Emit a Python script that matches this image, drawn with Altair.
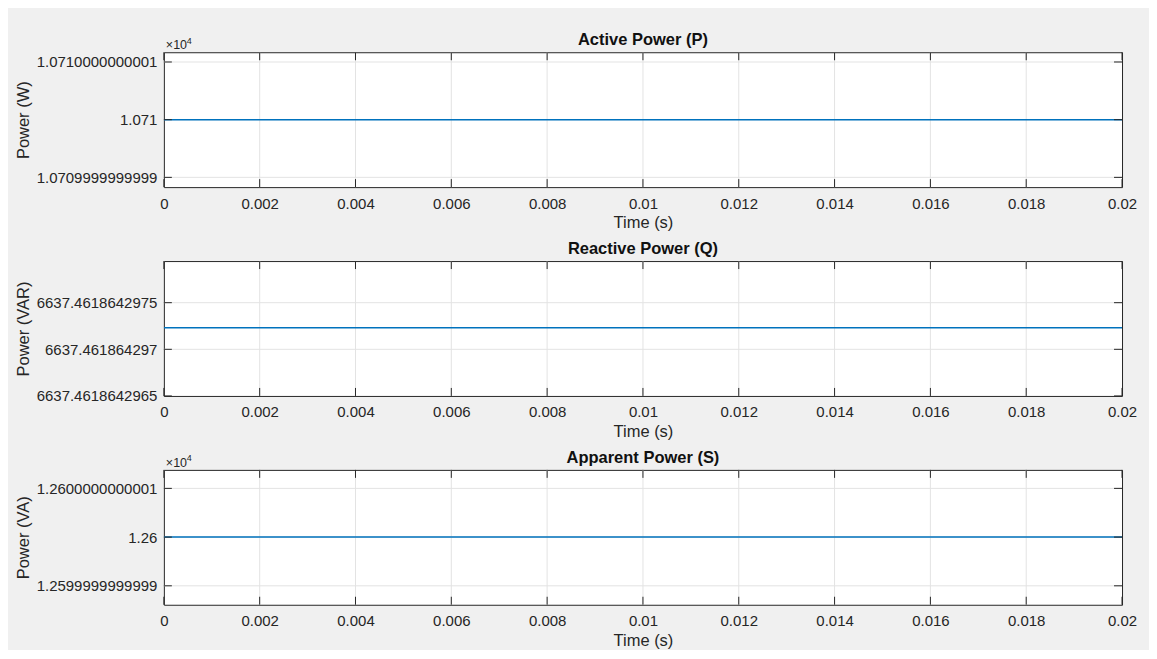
import altair as alt
import pandas as pd

FONT = "Liberation Sans"
BLUE = "#0072BD"
TXT = "#262626"
GRID = "#e3e3e3"
AXC = "#262626"
W, H = 959, 135

# ---- data ----
time_s = [0.0, 0.004, 0.008, 0.012, 0.016, 0.02]
active_p = [10710.0, 10710.0, 10710.0, 10710.0, 10710.0, 10710.0]
reactive_q = [6637.46186429723, 6637.46186429723, 6637.46186429723,
              6637.46186429723, 6637.46186429723, 6637.46186429723]
apparent_s = [12600.0, 12600.0, 12600.0, 12600.0, 12600.0, 12600.0]

x_ticks = [0.0, 0.002, 0.004, 0.006, 0.008, 0.01, 0.012, 0.014, 0.016, 0.018, 0.02]

p_ticks = [10709.999999999, 10710.0, 10710.000000001]
p_labels = ["1.0709999999999", "1.071", "1.0710000000001"]
p_domain = [10709.99999999883, 10710.00000000117]

q_ticks = [6637.4618642965, 6637.461864297, 6637.4618642975]
q_labels = ["6637.4618642965", "6637.461864297", "6637.4618642975"]
q_domain = [6637.4618642965, 6637.461864297947]

s_ticks = [12599.999999999, 12600.0, 12600.000000001]
s_labels = ["1.2599999999999", "1.26", "1.2600000000001"]
s_domain = [12599.99999999861, 12600.00000000138]

panels = [
    dict(title="Active Power (P)", ytitle="Power (W)", values=active_p,
         ticks=p_ticks, labels=p_labels, domain=p_domain, exp=True),
    dict(title="Reactive Power (Q)", ytitle="Power (VAR)", values=reactive_q,
         ticks=q_ticks, labels=q_labels, domain=q_domain, exp=False),
    dict(title="Apparent Power (S)", ytitle="Power (VA)", values=apparent_s,
         ticks=s_ticks, labels=s_labels, domain=s_domain, exp=True),
]


def label_expr(ticks, labels):
    m1 = (ticks[0] + ticks[1]) / 2
    m2 = (ticks[1] + ticks[2]) / 2
    return (f"datum.value < {m1!r} ? '{labels[0]}' : "
            f"(datum.value < {m2!r} ? '{labels[1]}' : '{labels[2]}')")


def panel(p):
    xs = alt.Scale(domain=[0, 0.02], nice=False, zero=False)
    ys = alt.Scale(domain=p["domain"], nice=False, zero=False)
    lo, hi = p["domain"]

    xaxis = alt.Axis(values=x_ticks, format="~g", grid=False, domain=False,
                     ticks=False, tickSize=0, labelFont=FONT, labelFontSize=15,
                     labelColor=TXT, labelBaseline="alphabetic", labelPadding=21,
                     title="Time (s)", titleFont=FONT, titleFontSize=16.5,
                     titleFontWeight="normal", titleColor=TXT,
                     titleBaseline="alphabetic", titleY=40.6,
                     labelFlush=False, labelOverlap=False)
    yaxis = alt.Axis(values=p["ticks"], labelExpr=label_expr(p["ticks"], p["labels"]),
                     grid=False, domain=False, ticks=False, tickSize=0,
                     labelFont=FONT, labelFontSize=15, labelColor=TXT,
                     labelPadding=7, labelFlush=False, labelOverlap=False,
                     title=p["ytitle"], titleFont=FONT, titleFontSize=16.5,
                     titleFontWeight="normal", titleColor=TXT,
                     titleBaseline="alphabetic", titleAngle=270,
                     titleX=-135.5, titleY=H / 2)

    X = alt.X("t:Q", scale=xs, axis=xaxis)
    Y = alt.Y("v:Q", scale=ys, axis=yaxis)

    line_df = pd.DataFrame({"t": time_s, "v": p["values"]})
    xt_df = pd.DataFrame({"t": x_ticks})
    yt_df = pd.DataFrame({"v": p["ticks"]})
    gx_df = pd.DataFrame({"t": [t for t in x_ticks if 0 < t < 0.02]})
    gy_df = pd.DataFrame({"v": [v for v in p["ticks"] if lo < v < hi]})

    gx = alt.Chart(gx_df).mark_rule(color=GRID, strokeWidth=1).encode(
        x=X, y=alt.value(0), y2=alt.value(H))
    gy = alt.Chart(gy_df).mark_rule(color=GRID, strokeWidth=1).encode(
        y=Y, x=alt.value(0), x2=alt.value(W))

    line = alt.Chart(line_df).mark_line(color=BLUE, strokeWidth=1.5, clip=True).encode(
        x=X, y=Y)

    tb = alt.Chart(xt_df).mark_rule(color=AXC, strokeWidth=1).encode(
        x=X, y=alt.value(H), y2=alt.value(H - 8))
    tt = alt.Chart(xt_df).mark_rule(color=AXC, strokeWidth=1).encode(
        x=X, y=alt.value(0), y2=alt.value(8))
    tl = alt.Chart(yt_df).mark_rule(color=AXC, strokeWidth=1).encode(
        y=Y, x=alt.value(0), x2=alt.value(8))
    tr = alt.Chart(yt_df).mark_rule(color=AXC, strokeWidth=1).encode(
        y=Y, x=alt.value(W), x2=alt.value(W - 8))

    ttl = alt.Chart(pd.DataFrame({"s": [p["title"]]})).mark_text(
        align="center", baseline="alphabetic", font=FONT, fontSize=16.5,
        fontWeight="bold", color="#111111"
    ).encode(x=alt.value(W / 2), y=alt.value(-7), text="s:N")

    layers = [gx, gy, line, tb, tt, tl, tr, ttl]
    if p["exp"]:
        e1 = alt.Chart(pd.DataFrame({"s": ["×10"]})).mark_text(
            align="left", baseline="alphabetic", font=FONT, fontSize=12.5, color=TXT
        ).encode(x=alt.value(2), y=alt.value(-3), text="s:N")
        e2 = alt.Chart(pd.DataFrame({"s": ["4"]})).mark_text(
            align="left", baseline="alphabetic", font=FONT, fontSize=9, color=TXT
        ).encode(x=alt.value(23), y=alt.value(-8.5), text="s:N")
        layers += [e1, e2]

    return alt.layer(*layers).properties(width=W, height=H)


chart = alt.vconcat(*[panel(p) for p in panels], spacing=74, bounds="flush").properties(
    background="#f0f0f0",
    padding={"left": 7, "top": 23, "right": 11, "bottom": 0},
).configure_view(stroke=AXC, strokeWidth=1, fill="white")

chart.save("out.html", embed_options={"renderer": "svg", "actions": False})
